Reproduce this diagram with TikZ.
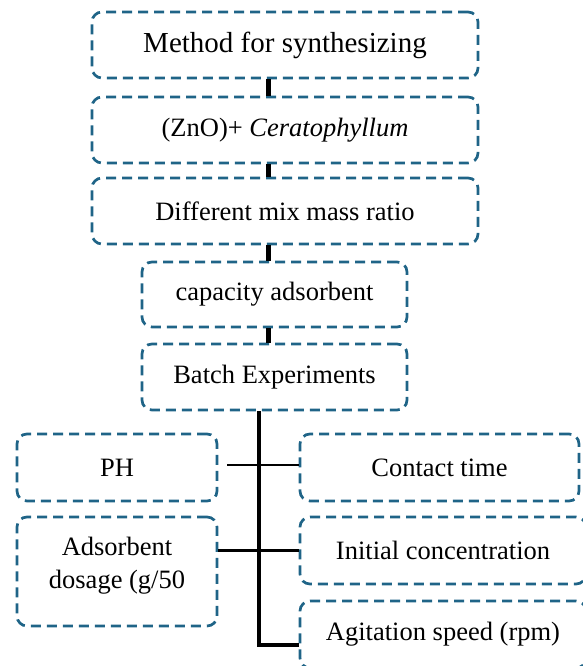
\documentclass[tikz,border=0pt]{standalone}
\usepackage{fontspec}
\setmainfont{Liberation Serif}
\usetikzlibrary{positioning,calc}
\definecolor{boxblue}{HTML}{1F6487}

\tikzset{
  stage/.style={draw=boxblue, line width=2.7pt, dash pattern=on 10pt off 6pt,
    rounded corners=10pt, align=center, inner sep=0pt,
    font=\fontsize{26.5}{33}\selectfont},
  link/.style={line width=5pt},
  trunk/.style={line width=3.5pt},
  branch/.style={line width=2.3pt}
}

\begin{document}
\begin{tikzpicture}[x=1pt, y=-1pt]
    \useasboundingbox (0,0) rectangle (583,666);

    % upper chain
    \node[stage, minimum width=386pt, minimum height=66pt, font=\fontsize{29}{35}\selectfont] (meth) at (285,45) {Method for synthesizing};
    \node[stage, minimum width=386pt, minimum height=66pt] (zno) at (285,130) {(ZnO)+ \textit{Ceratophyllum}};
    \node[stage, minimum width=386pt, minimum height=66pt] (ratio) at (285,211) {Different mix mass ratio};
    \node[stage, minimum width=265pt, minimum height=65pt] (cap) at (274.5,294.5) {capacity adsorbent};
    \node[stage, minimum width=265pt, minimum height=66pt] (batch) at (274.5,377) {Batch Experiments};

    % parameters
    \node[stage, minimum width=200pt, minimum height=67pt] (ph) at (117,467.5) {PH};
    \node[stage, minimum width=279pt, minimum height=67pt] (ctime) at (439.5,467.5) {Contact time};
    \node[stage, minimum width=200pt, minimum height=109pt] (dose) at (117,571.5) {};
    \node[font=\fontsize{26.5}{33}\selectfont, align=center] (dosetxt) at (117,566) {Adsorbent\\dosage (g/50};
    \node[stage, minimum width=286pt, minimum height=67pt] (conc) at (443,550.5) {Initial concentration};
    \node[stage, minimum width=286pt, minimum height=67pt] (agit) at (443,634.5) {Agitation speed (rpm)};

    \coordinate (spine) at (268,0);
    \coordinate (corner) at (259,645);

    \draw[link] (meth.south -| spine) -- (zno.north -| spine);
    \draw[link] (zno.south -| spine) -- (ratio.north -| spine);
    \draw[link] (ratio.south -| spine) -- (cap.north -| spine);
    \draw[link] (cap.south -| spine) -- (batch.north -| spine);

    \draw[trunk] (batch.south -| corner) -- (corner) -- (corner -| agit.west);
    \draw[branch, shorten <=9pt] ([yshift=2.5pt]ph.east) -- ([yshift=2.5pt]ctime.west);
    \draw[branch] (conc.west -| dose.east) -- (conc.west);
\end{tikzpicture}
\end{document}
